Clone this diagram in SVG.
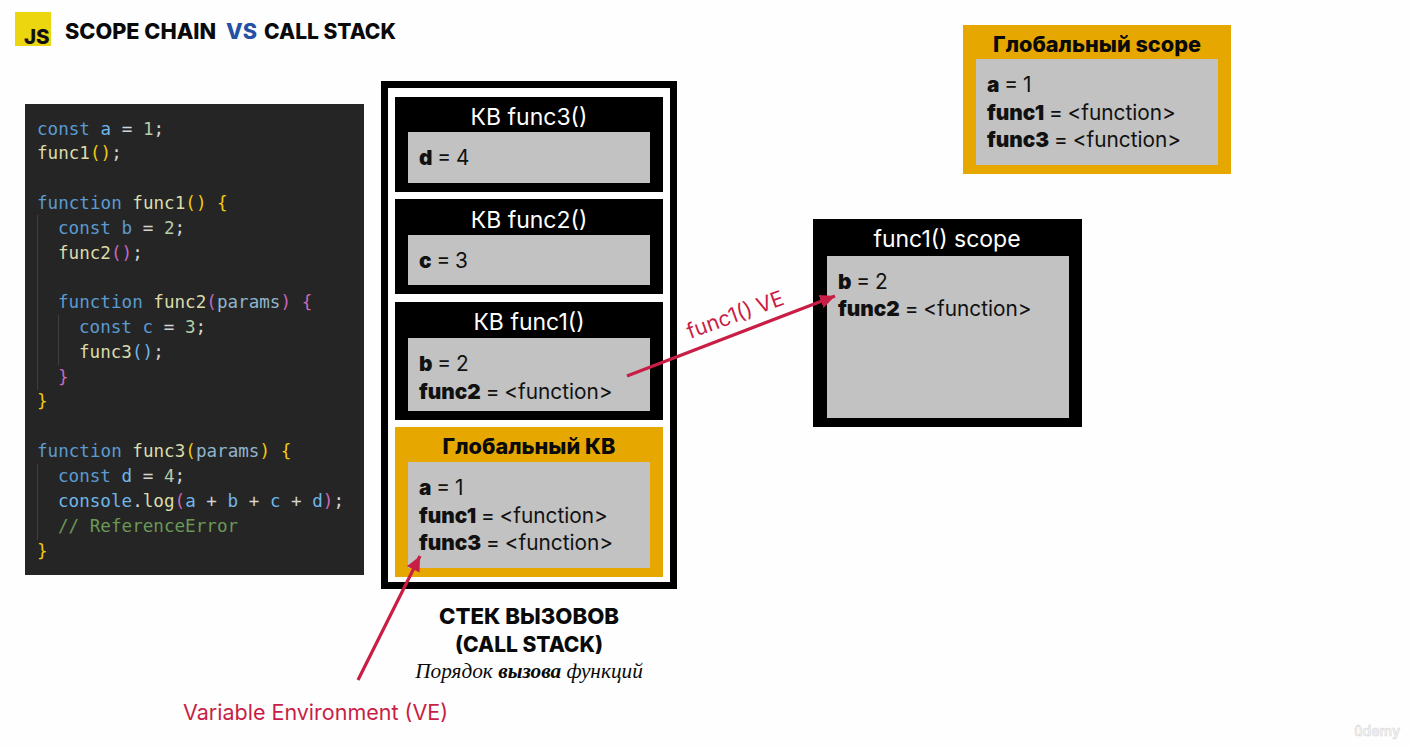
<svg xmlns="http://www.w3.org/2000/svg" width="1412" height="747" viewBox="0 0 1412 747">
<style>
text{font-family:Inter,"Noto Sans",sans-serif}
.blk{fill:#000}.gry{fill:#c2c2c2}.yel{fill:#e6a800}
.hw{font-size:23px;fill:#fff;text-anchor:middle}
.hb{font-size:21.7px;font-weight:800;fill:#0a0a0a;text-anchor:middle}
.v{font-size:20.8px;fill:#111;word-spacing:-1px}.v tspan{font-weight:900}
.code{font-family:"DejaVu Sans Mono",monospace;font-size:17.6px;fill:#d4d4d4;white-space:pre}
.k{fill:#5b9bd0}.n{fill:#6fb6e8}.f{fill:#dcdcaa}.o{fill:#b5cea8}.y{fill:#f2c80f}.m{fill:#c768bd}.b{fill:#6fb6e8}.p{fill:#8fb5cc}.c{fill:#6a9955}.w{fill:#d4d4d4}
.guide{stroke:#3f3f3f;stroke-width:1;fill:none}
.red{stroke:#c81e45;stroke-width:3.2;fill:none}
.rt{fill:#c81e45}
</style>
<defs>
<marker id="ah" markerUnits="userSpaceOnUse" markerWidth="16" markerHeight="14" refX="15" refY="7" orient="auto"><path d="M0 0L15 7L0 14z" fill="#c81e45"/></marker>
</defs>
<rect width="1412" height="747" fill="#fefefe"/>
<g id="header">
<rect x="15" y="12" width="36" height="34" fill="#ecd60f"/>
<text x="24" y="44" font-size="20.5" font-weight="800" fill="#111">JS</text>
<text x="65" y="39" font-size="21.7" font-weight="800" fill="#0a0a0a">SCOPE CHAIN</text>
<text x="226" y="39" font-size="21.7" font-weight="800" fill="#2550a5">VS</text>
<text x="264" y="39" font-size="21" font-weight="800" fill="#0a0a0a">CALL STACK</text>
</g>
<g id="code">
<rect x="25" y="104" width="339" height="471" fill="#252526"/>
<path class="guide" d="M37.5 215V390M58.5 315V365M37.5 464V540"/>
<text class="code" x="37" y="134.5"><tspan class="k">const</tspan> <tspan class="n">a</tspan> = <tspan class="o">1</tspan>;</text>
<text class="code" x="37" y="158.5"><tspan class="f">func1</tspan><tspan class="y">()</tspan>;</text>
<text class="code" x="37" y="208.5"><tspan class="k">function</tspan> <tspan class="f">func1</tspan><tspan class="y">()</tspan> <tspan class="y">{</tspan></text>
<text class="code" x="58" y="233.5"><tspan class="k">const</tspan> <tspan class="k">b</tspan> = <tspan class="o">2</tspan>;</text>
<text class="code" x="58" y="258.5"><tspan class="f">func2</tspan><tspan class="m">()</tspan>;</text>
<text class="code" x="58" y="307.5"><tspan class="k">function</tspan> <tspan class="f">func2</tspan><tspan class="m">(</tspan><tspan class="p">params</tspan><tspan class="m">)</tspan> <tspan class="m">{</tspan></text>
<text class="code" x="79" y="332.5"><tspan class="k">const</tspan> <tspan class="k">c</tspan> = <tspan class="o">3</tspan>;</text>
<text class="code" x="79" y="357.5"><tspan class="f">func3</tspan><tspan class="b">()</tspan>;</text>
<text class="code" x="58" y="382.5"><tspan class="m">}</tspan></text>
<text class="code" x="37" y="406.5"><tspan class="y">}</tspan></text>
<text class="code" x="37" y="456.5"><tspan class="k">function</tspan> <tspan class="f">func3</tspan><tspan class="y">(</tspan><tspan class="p">params</tspan><tspan class="y">)</tspan> <tspan class="y">{</tspan></text>
<text class="code" x="58" y="481.5"><tspan class="k">const</tspan> <tspan class="n">d</tspan> = <tspan class="o">4</tspan>;</text>
<text class="code" x="58" y="506.5"><tspan class="n">console</tspan>.<tspan class="f">log</tspan><tspan class="m">(</tspan><tspan class="n">a</tspan> + <tspan class="n">b</tspan> + <tspan class="n">c</tspan> + <tspan class="n">d</tspan><tspan class="m">)</tspan>;</text>
<text class="code" x="58" y="531.5"><tspan class="c">// ReferenceError</tspan></text>
<text class="code" x="37" y="556.5"><tspan class="y">}</tspan></text>
</g>
<g id="call-stack">
<rect x="384.5" y="84.5" width="289" height="501" fill="#fff" stroke="#000" stroke-width="7"/>
</g>
<g id="ec-func3">
<rect class="blk" x="395" y="97" width="268" height="95"/>
<rect class="gry" x="408" y="132" width="242" height="51"/>
<text class="hw" x="529" y="125">КВ func3()</text>
<text class="v" x="419" y="165"><tspan>d</tspan> = 4</text>
</g>
<g id="ec-func2">
<rect class="blk" x="395" y="199" width="268" height="95"/>
<rect class="gry" x="408" y="235" width="242" height="50"/>
<text class="hw" x="529" y="228">КВ func2()</text>
<text class="v" x="419" y="268"><tspan>c</tspan> = 3</text>
</g>
<g id="ec-func1">
<rect class="blk" x="395" y="302" width="268" height="118"/>
<rect class="gry" x="408" y="338" width="242" height="73"/>
<text class="hw" x="529" y="330">КВ func1()</text>
<text class="v" x="419" y="371"><tspan>b</tspan> = 2</text>
<text class="v" x="419" y="399"><tspan>func2</tspan> = &lt;function&gt;</text>
</g>
<g id="ec-global">
<rect class="yel" x="395" y="427" width="268" height="150"/>
<rect class="gry" x="408" y="462" width="242" height="106"/>
<text class="hb" x="529" y="454">Глобальный КВ</text>
<text class="v" x="419" y="495"><tspan>a</tspan> = 1</text>
<text class="v" x="419" y="523"><tspan>func1</tspan> = &lt;function&gt;</text>
<text class="v" x="419" y="550"><tspan>func3</tspan> = &lt;function&gt;</text>
</g>
<g id="call-stack-label">
<text x="529" y="624" font-size="22.2" font-weight="800" fill="#0a0a0a" text-anchor="middle">СТЕК ВЫЗОВОВ</text>
<text x="529" y="652" font-size="21" font-weight="800" fill="#0a0a0a" text-anchor="middle">(CALL STACK)</text>
<text x="529" y="678" font-size="21.3" font-style="italic" fill="#0a0a0a" text-anchor="middle" style="font-family:'Liberation Serif',serif">Порядок <tspan font-weight="700">вызова</tspan> функций</text>
</g>
<g id="scope-global">
<rect class="yel" x="963" y="25" width="268" height="149"/>
<rect class="gry" x="976" y="59" width="242" height="106"/>
<text class="hb" x="1097" y="52">Глобальный scope</text>
<text class="v" x="987" y="92"><tspan>a</tspan> = 1</text>
<text class="v" x="987" y="120"><tspan>func1</tspan> = &lt;function&gt;</text>
<text class="v" x="987" y="147"><tspan>func3</tspan> = &lt;function&gt;</text>
</g>
<g id="scope-func1">
<rect class="blk" x="813" y="219" width="269" height="208"/>
<rect class="gry" x="827" y="256" width="242" height="162"/>
<text class="hw" x="947" y="247">func1() scope</text>
<text class="v" x="838" y="289"><tspan>b</tspan> = 2</text>
<text class="v" x="838" y="316"><tspan>func2</tspan> = &lt;function&gt;</text>
</g>
<g id="connectors">
<path class="red" marker-end="url(#ah)" d="M627 376L835 296"/>
<path class="red" marker-end="url(#ah)" d="M358 680L420 556"/>
</g>
<g id="labels">
<text class="rt" x="690" y="339" font-size="21.2" transform="rotate(-20 690 339)">func1() VE</text>
<text class="rt" x="183" y="720" font-size="21.5">Variable Environment (VE)</text>
<text x="1354" y="736" font-size="14" font-weight="600" fill="#f2f2f2" stroke="#d8d8d8" stroke-width=".5">ûdemy</text>
</g>
</svg>
